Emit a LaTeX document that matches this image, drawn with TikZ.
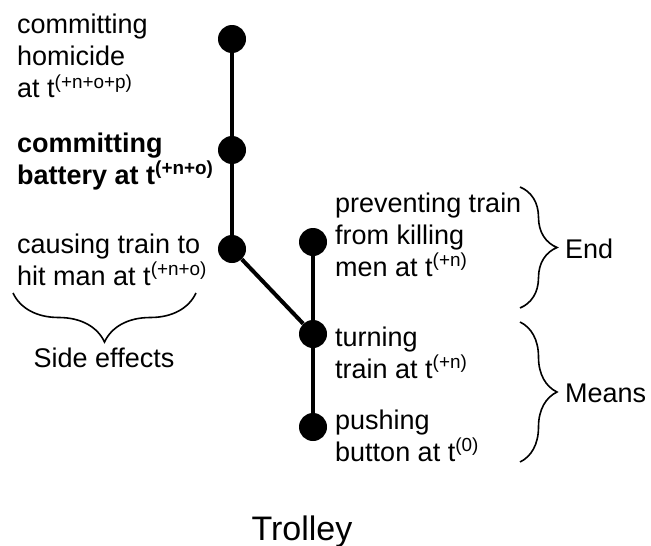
\documentclass[tikz,border=0pt]{standalone}
\usepackage{fontspec}
\setmainfont{Liberation Sans}
\usetikzlibrary{decorations.pathreplacing}
\newcommand\tsup[1]{\smash{\textsuperscript{#1}}}
\newcommand\lines[1]{\begin{tabular}[t]{@{}l@{}}#1\end{tabular}}
\begin{document}
\begin{tikzpicture}[x=1pt,y=-1pt,
  dot/.style={circle,fill=black,inner sep=0pt,minimum size=28pt},
  edge/.style={line width=4pt},
  lbl/.style={anchor=base west,inner sep=0pt,font=\fontsize{27}{32}\selectfont},
  brc/.style={decorate,decoration={brace,amplitude=#1},line width=1.6pt}
]
\useasboundingbox (0,0) rectangle (651,546);
% dots
\node[dot] (homicide) at (232,39) {};
\node[dot] (battery) at (232,150) {};
\node[dot] (hit) at (232,249) {};
\node[dot] (prevent) at (313,242) {};
\node[dot] (turn) at (313,334) {};
\node[dot] (push) at (313,427) {};
% connectors
\draw[edge] (homicide) -- (battery);
\draw[edge] (battery) -- (hit);
\draw[edge] (hit) -- (turn);
\draw[edge] (prevent) -- (turn);
\draw[edge] (turn) -- (push);
% labels
\node[lbl] (lhom) at (17,34) {\lines{committing\\homicide\\at t\tsup{(+n+o+p)}}};
\node[lbl,font=\fontsize{27}{32}\selectfont\bfseries] (lbat) at (17,152) {\lines{committing\\battery at t\tsup{(+n+o)}}};
\node[lbl] (lhit) at (17,253) {\lines{causing train to\\hit man at t\tsup{(+n+o)}}};
\node[lbl] (lprev) at (335,212) {\lines{preventing train\\from killing\\men at t\tsup{(+n)}}};
\node[lbl] (lturn) at (335,346) {\lines{turning\\train at t\tsup{(+n)}}};
\node[lbl] (lpush) at (335,429) {\lines{pushing\\button at t\tsup{(0)}}};
% braces
\coordinate (e1) at (520,187);
\coordinate (e2) at (520,308);
\coordinate (m1) at (520,322);
\coordinate (m2) at (520,462);
\coordinate (s1) at (196,293);
\coordinate (s2) at (13,293);
\draw[brc=37pt] (e1) -- (e2);
\draw[brc=37pt] (m1) -- (m2);
\draw[brc=49pt] (s1) -- (s2);
\node[lbl] (lend) at (565,258) {End};
\node[lbl] (lmeans) at (565,402) {Means};
\node[lbl,anchor=base] (lside) at (104,367) {Side effects};
\node[anchor=base,inner sep=0pt,font=\fontsize{34}{40}\selectfont] (title) at (302,540) {Trolley};
\end{tikzpicture}
\end{document}
